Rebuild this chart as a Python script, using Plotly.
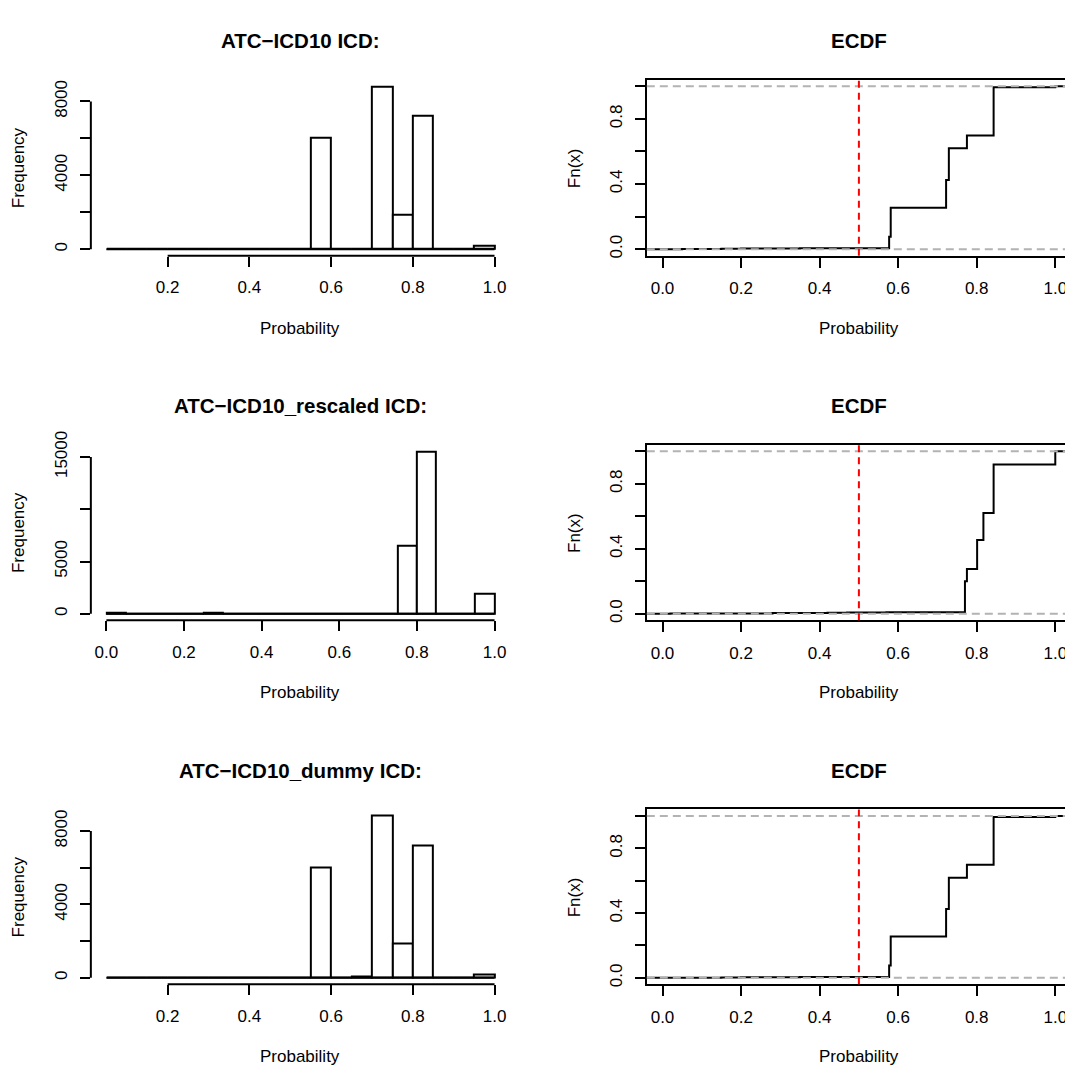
import plotly.graph_objects as go

# ---------------- data ----------------
bin_width = 0.05

# Panel 1: ATC-ICD10 ICD histogram (bins from 0.05 to 1.0)
h1_edges_start = 0.05
h1_counts = [20, 0, 40, 20, 0, 0, 20, 0, 20, 0, 6040, 20, 50, 8820, 1870, 7200, 0, 0, 180]
h1_yticks = [0, 2000, 4000, 6000, 8000]
h1_ylabels = ["0", "", "4000", "", "8000"]
h1_xticks = [0.2, 0.4, 0.6, 0.8, 1.0]

# Panel 2: ATC-ICD10_rescaled ICD histogram (bins from 0.0 to 1.0)
h2_edges_start = 0.0
h2_counts = [50, 0, 0, 0, 0, 80, 0, 0, 30, 30, 0, 40, 0, 0, 0, 6510, 15540, 0, 0, 1915]
h2_yticks = [0, 5000, 10000, 15000]
h2_ylabels = ["0", "5000", "", "15000"]
h2_xticks = [0.0, 0.2, 0.4, 0.6, 0.8, 1.0]

# Panel 3: ATC-ICD10_dummy ICD histogram (bins from 0.05 to 1.0)
h3_edges_start = 0.05
h3_counts = [20, 20, 0, 20, 0, 0, 20, 0, 20, 20, 6040, 20, 50, 8820, 1870, 7200, 0, 0, 180]
h3_yticks = [0, 2000, 4000, 6000, 8000]
h3_ylabels = ["0", "", "4000", "", "8000"]
h3_xticks = [0.2, 0.4, 0.6, 0.8, 1.0]

# ECDF knots and cumulative values
e1_x = [0.05, 0.15, 0.2, 0.35, 0.45, 0.577, 0.581, 0.722, 0.729, 0.775, 0.843, 1.0]
e1_y = [0.001, 0.003, 0.004, 0.005, 0.006, 0.077, 0.255, 0.425, 0.619, 0.698, 0.994, 1.0]
e2_x = [0.02, 0.28, 0.42, 0.47, 0.57, 0.770, 0.775, 0.801, 0.817, 0.843, 1.0]
e2_y = [0.002, 0.005, 0.007, 0.008, 0.010, 0.200, 0.275, 0.454, 0.621, 0.919, 1.0]
e3_x = [0.05, 0.15, 0.2, 0.35, 0.45, 0.577, 0.581, 0.722, 0.729, 0.775, 0.843, 1.0]
e3_y = [0.001, 0.003, 0.004, 0.005, 0.006, 0.077, 0.255, 0.425, 0.619, 0.698, 0.994, 1.0]

ecdf_xticks = [0.0, 0.2, 0.4, 0.6, 0.8, 1.0]
ecdf_yticks = [0.0, 0.2, 0.4, 0.6, 0.8, 1.0]
ecdf_ylabels = ["0.0", "", "0.4", "", "0.8", ""]
ecdf_xlim = [0.0, 1.0]
threshold = 0.5

titles_hist = ["ATC\u2212ICD10 ICD:", "ATC\u2212ICD10_rescaled ICD:", "ATC\u2212ICD10_dummy ICD:"]
title_ecdf = "ECDF"

# ---------------- layout geometry (screen pixels) ----------------
SW, SH = 1073, 1070
OFF = 8  # default page body margin
W, H = SW - OFF, SH - OFF
FONT = "Liberation Sans, Arial, Helvetica, sans-serif"
FS = 17
TFS = 20.5
hist_px = (91, 511)
ecdf_px = (648, 1073)
rows_px = [(66.7, 245.5), (437.7, 616.0), (808.3, 986.0)]

def fx(px):
    return (px - OFF) / W

def fy(py):
    return 1 - (py - OFF) / H

fig = go.Figure()
layout = dict(
    width=W, height=H,
    margin=dict(l=0, r=0, t=0, b=0),
    paper_bgcolor="white", plot_bgcolor="white",
    showlegend=False,
    font=dict(family=FONT, size=FS, color="black"),
)
shapes = []
annotations = []

hists = [
    (h1_edges_start, h1_counts, h1_yticks, h1_ylabels, h1_xticks),
    (h2_edges_start, h2_counts, h2_yticks, h2_ylabels, h2_xticks),
    (h3_edges_start, h3_counts, h3_yticks, h3_ylabels, h3_xticks),
]
ecdfs = [(e1_x, e1_y), (e2_x, e2_y), (e3_x, e3_y)]

LW = 2
for r in range(3):
    top, bot = rows_px[r]
    ydom = [fy(bot), fy(top)]
    # ---------- histogram ----------
    start, counts, yt, yl, xt = hists[r]
    n = len(counts)
    centers = [start + bin_width * (i + 0.5) for i in range(n)]
    x_lo = start
    x_hi = start + bin_width * n
    span = x_hi - x_lo
    ymax = max(counts)
    hi = 2 * r + 1
    xa = "x" if hi == 1 else f"x{hi}"
    ya = "y" if hi == 1 else f"y{hi}"
    fig.add_trace(go.Scatter(x=[x_lo, x_hi], y=[0, 0], mode="lines",
                             line=dict(color="black", width=LW), xaxis=xa, yaxis=ya,
                             hoverinfo="skip"))
    fig.add_trace(go.Bar(x=centers, y=counts, width=bin_width,
                         marker=dict(color="white", line=dict(color="black", width=LW)),
                         xaxis=xa, yaxis=ya))
    axkey_x = "xaxis" if hi == 1 else f"xaxis{hi}"
    axkey_y = "yaxis" if hi == 1 else f"yaxis{hi}"
    layout[axkey_x] = dict(
        domain=[fx(hist_px[0]), fx(hist_px[1])], anchor=ya,
        range=[x_lo - 0.04 * span, x_hi + 0.04 * span],
        showgrid=False, zeroline=False, showline=False,
        ticks="outside", ticklen=10, tickwidth=LW, tickcolor="black",
        tickvals=xt, ticktext=[f"{v:.1f}" for v in xt],
        tickfont=dict(size=FS, family=FONT, color="black"),
        ticklabelstandoff=6,
    )
    layout[axkey_y] = dict(
        domain=ydom, anchor=xa,
        range=[-0.04 * ymax, 1.04 * ymax],
        showgrid=False, zeroline=False, showline=False,
        ticks="outside", ticklen=10, tickwidth=LW, tickcolor="black",
        tickvals=yt, ticktext=yl, tickangle=-90,
        tickfont=dict(size=FS, family=FONT, color="black"),
        ticklabelstandoff=6,
    )
    # axis lines spanning first to last tick (R style)
    shapes.append(dict(type="line", xref=xa, yref=f"{ya} domain",
                       x0=xt[0], x1=xt[-1], y0=0, y1=0,
                       line=dict(color="black", width=LW)))
    shapes.append(dict(type="line", xref=f"{xa} domain", yref=ya,
                       x0=0, x1=0, y0=yt[0], y1=yt[-1],
                       line=dict(color="black", width=LW)))
    cx = (hist_px[0] + hist_px[1]) / 2
    annotations.append(dict(text=f"<b>{titles_hist[r]}</b>", x=fx(cx), y=fy(top - 39.5),
                            xref="paper", yref="paper", showarrow=False,
                            xanchor="center", yanchor="middle",
                            font=dict(size=TFS, family=FONT, color="black")))
    annotations.append(dict(text="Probability", x=fx(cx), y=fy(bot + 73.5),
                            xref="paper", yref="paper", showarrow=False,
                            xanchor="center", yanchor="middle",
                            font=dict(size=FS, family=FONT, color="black")))
    annotations.append(dict(text="Frequency", x=fx(hist_px[0] - 72.5), y=fy((top + bot) / 2),
                            xref="paper", yref="paper", showarrow=False, textangle=-90,
                            xanchor="center", yanchor="middle",
                            font=dict(size=FS, family=FONT, color="black")))

    # ---------- ECDF ----------
    ei = 2 * r + 2
    xa2 = f"x{ei}"
    ya2 = f"y{ei}"
    ex, ey = ecdfs[r]
    xspan = ecdf_xlim[1] - ecdf_xlim[0]
    xr = [ecdf_xlim[0] - 0.04 * xspan, ecdf_xlim[1] + 0.04 * xspan]
    fig.add_trace(go.Scatter(x=[xr[0]] + ex + [xr[1]], y=[0] + ey + [ey[-1]],
                             mode="lines", line=dict(color="black", width=LW, shape="hv"),
                             xaxis=xa2, yaxis=ya2, hoverinfo="skip"))
    layout[f"xaxis{ei}"] = dict(
        domain=[fx(ecdf_px[0]), min(1.0, fx(ecdf_px[1]))], anchor=ya2, range=xr,
        showgrid=False, zeroline=False, showline=True, mirror=True,
        linecolor="black", linewidth=LW,
        ticks="outside", ticklen=10, tickwidth=LW, tickcolor="black",
        tickvals=ecdf_xticks, ticktext=[f"{v:.1f}" for v in ecdf_xticks],
        tickfont=dict(size=FS, family=FONT, color="black"),
        ticklabelstandoff=6,
    )
    layout[f"yaxis{ei}"] = dict(
        domain=ydom, anchor=xa2, range=[-0.04, 1.04],
        showgrid=False, zeroline=False, showline=True, mirror=True,
        linecolor="black", linewidth=LW,
        ticks="outside", ticklen=10, tickwidth=LW, tickcolor="black",
        tickvals=ecdf_yticks, ticktext=ecdf_ylabels, tickangle=-90,
        tickfont=dict(size=FS, family=FONT, color="black"),
        ticklabelstandoff=6,
    )
    for hv in (0, 1):
        shapes.append(dict(type="line", xref=f"{xa2} domain", yref=ya2,
                           x0=0, x1=1, y0=hv, y1=hv,
                           line=dict(color="#B3B3B3", width=LW, dash="8px,5px")))
    shapes.append(dict(type="line", xref=xa2, yref=f"{ya2} domain",
                       x0=threshold, x1=threshold, y0=0, y1=1,
                       line=dict(color="red", width=LW, dash="7px,5px")))
    ecx = (ecdf_px[0] + ecdf_px[1]) / 2
    annotations.append(dict(text=f"<b>{title_ecdf}</b>", x=fx(ecx), y=fy(top - 39.5),
                            xref="paper", yref="paper", showarrow=False,
                            xanchor="center", yanchor="middle",
                            font=dict(size=TFS, family=FONT, color="black")))
    annotations.append(dict(text="Probability", x=fx(ecx), y=fy(bot + 73.5),
                            xref="paper", yref="paper", showarrow=False,
                            xanchor="center", yanchor="middle",
                            font=dict(size=FS, family=FONT, color="black")))
    annotations.append(dict(text="Fn(x)", x=fx(ecdf_px[0] - 72.5), y=fy((top + bot) / 2),
                            xref="paper", yref="paper", showarrow=False, textangle=-90,
                            xanchor="center", yanchor="middle",
                            font=dict(size=FS, family=FONT, color="black")))

layout["shapes"] = shapes
layout["annotations"] = annotations
layout["bargap"] = 0
fig.update_layout(**layout)
fig.write_html("out.html")
